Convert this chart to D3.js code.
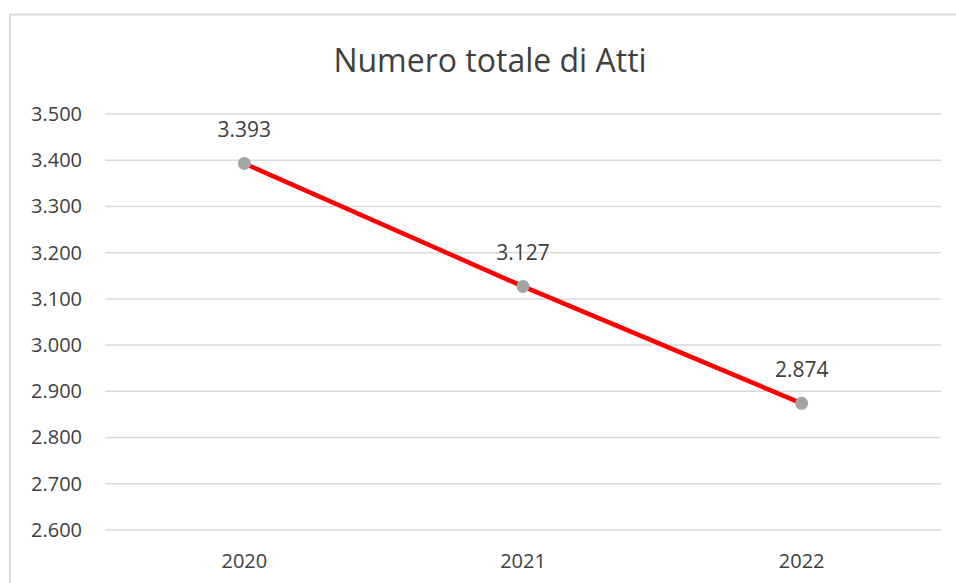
<!DOCTYPE html>
<html><head><meta charset="utf-8">
<script src="https://cdn.jsdelivr.net/npm/d3@7"></script>
<style>body{margin:0;background:#fff;} svg{display:block;}</style>
</head><body>
<svg id="c" width="956" height="583"></svg>
<script>
const title = "Numero totale di Atti";
const categories = ["2020", "2021", "2022"];
const values = [3393, 3127, 2874];
const yTicks = [2600, 2700, 2800, 2900, 3000, 3100, 3200, 3300, 3400, 3500];

const svg = d3.select("#c");
const W = 956, H = 583;
const m = {left: 105, right: 15, top: 114, bottom: 53};
const fmt = v => d3.format(",")(v).replace(/,/g, ".");
const font = "'Open Sans', sans-serif";

svg.append("rect").attr("x", 10).attr("y", 14.5).attr("width", 960).attr("height", 600)
  .attr("fill", "#fff").attr("stroke", "#d9d9d9").attr("stroke-width", 2);

const x = d3.scaleBand().domain(categories).range([m.left, W - m.right]);
const y = d3.scaleLinear().domain([2600, 3500]).range([H - m.bottom, m.top]);

svg.append("g").selectAll("line").data(yTicks).join("line")
  .attr("x1", m.left).attr("x2", W - m.right)
  .attr("y1", d => y(d)).attr("y2", d => y(d))
  .attr("stroke", "#d9d9d9").attr("stroke-width", 1.5);

const yAxis = svg.append("g").attr("transform", `translate(${m.left},0)`)
  .call(d3.axisLeft(y).tickValues(yTicks).tickFormat(fmt).tickSize(0).tickPadding(23));
yAxis.select(".domain").remove();
yAxis.selectAll("text").attr("font-family", font).attr("font-size", 20).attr("fill", "#404040");

const xAxis = svg.append("g").attr("transform", `translate(0,${H - m.bottom})`)
  .call(d3.axisBottom(x).tickSize(0).tickPadding(24));
xAxis.select(".domain").remove();
xAxis.selectAll("text").attr("font-family", font).attr("font-size", 20).attr("fill", "#404040");

const cx = d => x(d) + x.bandwidth() / 2;
const line = d3.line().x((d, i) => cx(categories[i])).y(d => y(d));
svg.append("path").datum(values).attr("d", line)
  .attr("fill", "none").attr("stroke", "#ff0000").attr("stroke-width", 4.5);

svg.append("g").selectAll("circle").data(values).join("circle")
  .attr("cx", (d, i) => cx(categories[i])).attr("cy", d => y(d)).attr("r", 6.5)
  .attr("fill", "#a5a5a5");

svg.append("g").selectAll("text").data(values).join("text")
  .attr("x", (d, i) => cx(categories[i])).attr("y", d => y(d) - 26)
  .attr("text-anchor", "middle").attr("font-family", font).attr("font-size", 21)
  .attr("fill", "#404040").text(fmt);

svg.append("text").attr("x", 490).attr("y", 72).attr("text-anchor", "middle")
  .attr("font-family", font).attr("font-size", 32).attr("fill", "#404040").text(title);
</script>
</body></html>
